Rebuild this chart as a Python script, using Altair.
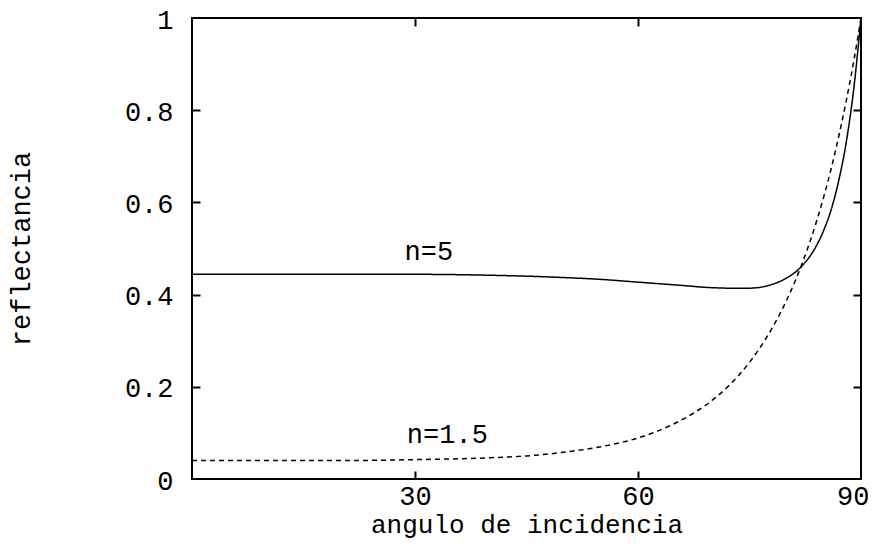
import altair as alt
import pandas as pd

# ---- data ----
angles = [0, 10, 20, 30, 40, 45, 50, 55, 60, 65, 70, 72, 75, 78, 80, 82, 84, 85, 86, 87, 88, 89, 90]
refl_n5 = [0.444, 0.444, 0.444, 0.444, 0.442, 0.440, 0.437, 0.433, 0.427, 0.421, 0.415, 0.414, 0.414,
           0.422, 0.436, 0.461, 0.506, 0.540, 0.585, 0.647, 0.729, 0.843, 1.0]
refl_n15 = [0.040, 0.040, 0.040, 0.042, 0.046, 0.050, 0.058, 0.070, 0.089, 0.121, 0.171, 0.199, 0.253,
            0.326, 0.388, 0.464, 0.558, 0.613, 0.674, 0.743, 0.819, 0.904, 1.0]
series_names = ["n=5", "n=1.5"]

x_tick_values = [30, 60, 90]
y_tick_values = [0, 0.2, 0.4, 0.6, 0.8, 1]

label_text = ["n=5", "n=1.5"]
label_angle = [28.6, 28.9]
label_refl = [0.475, 0.078]

x_title = "angulo de incidencia"
y_title = "reflectancia"

# ---- tables ----
df = pd.DataFrame({
    "angle": angles * 2,
    "R": refl_n5 + refl_n15,
    "series": [series_names[0]] * len(angles) + [series_names[1]] * len(angles),
})
labels_df = pd.DataFrame({"angle": label_angle, "R": label_refl, "text": label_text})

W, H = 669, 461
FONT = "Liberation Mono"
FS = 27

x_scale = alt.Scale(domain=[0, 90], nice=False, zero=False)
y_scale = alt.Scale(domain=[0, 1], nice=False, zero=False)

lines = alt.Chart(df).mark_line(color="black", strokeWidth=1.5, interpolate="monotone").encode(
    x=alt.X("angle:Q", scale=x_scale, axis=alt.Axis(
        values=x_tick_values, ticks=False, tickSize=0, domain=False, grid=False,
        labelFont=FONT, labelFontSize=FS, labelColor="black", labelPadding=25,
        labelBaseline="alphabetic", labelFlush=True, labelFlushOffset=8, labelOverlap=False,
        title=x_title, titleFont=FONT, titleFontSize=26, titleFontWeight="normal",
        titleColor="black", titleX=W / 2, titleY=53, titleAlign="center",
        titleBaseline="alphabetic")),
    y=alt.Y("R:Q", scale=y_scale, axis=alt.Axis(
        values=y_tick_values, format="~g", ticks=False, tickSize=0, domain=False, grid=False,
        labelFont=FONT, labelFontSize=FS, labelColor="black", labelPadding=19, labelOffset=2,
        labelFlush=False, labelOverlap=False,
        title=y_title, titleFont=FONT, titleFontSize=FS, titleFontWeight="normal",
        titleColor="black", titleAngle=270, titleX=-163, titleY=H / 2,
        titleAlign="center", titleBaseline="alphabetic")),
    strokeDash=alt.StrokeDash("series:N", scale=alt.Scale(domain=series_names, range=[[1, 0], [5, 4]]),
                              legend=None),
)

texts = alt.Chart(labels_df).mark_text(font=FONT, fontSize=FS, align="left", baseline="alphabetic",
                                       color="black").encode(
    x=alt.X("angle:Q", scale=x_scale, axis=None),
    y=alt.Y("R:Q", scale=y_scale, axis=None),
    text="text:N",
)

tick_style = dict(labels=False, domain=False, grid=False, ticks=True, tickSize=8, tickWidth=2,
                  tickColor="black", title=None)

# inward ticks on bottom and left edges
ticks_a = alt.Chart(df).mark_line(opacity=0).encode(
    x=alt.X("angle:Q", scale=x_scale, axis=alt.Axis(orient="top", offset=-H, values=[30, 60], **tick_style)),
    y=alt.Y("R:Q", scale=y_scale, axis=alt.Axis(orient="right", offset=-W, values=[0.2, 0.4, 0.6, 0.8], **tick_style)),
    detail="series:N",
)
# inward ticks on top and right edges
ticks_b = alt.Chart(df).mark_line(opacity=0).encode(
    x=alt.X("angle:Q", scale=x_scale, axis=alt.Axis(orient="bottom", offset=-H, values=[30, 60], **tick_style)),
    y=alt.Y("R:Q", scale=y_scale, axis=alt.Axis(orient="left", offset=-W, values=[0.2, 0.4, 0.6, 0.8], **tick_style)),
    detail="series:N",
)

chart = alt.layer(lines, texts, ticks_a, ticks_b).resolve_axis(
    x="independent", y="independent"
).properties(
    width=W, height=H,
    autosize=alt.AutoSizeParams(type="none"),
    padding={"left": 184, "top": 10, "right": 9, "bottom": 60},
    background="white",
).configure_view(stroke="black", strokeWidth=2)

chart.save("out.html", embed_options={"renderer": "svg", "actions": False})
